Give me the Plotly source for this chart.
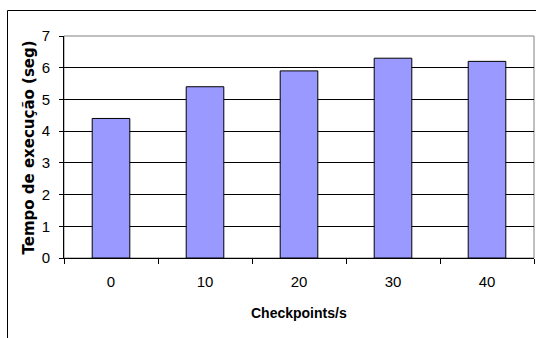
import plotly.graph_objects as go

# Execution time per checkpoint rate
checkpoints = ["0", "10", "20", "30", "40"]
tempo_seg = [4.4, 5.4, 5.9, 6.3, 6.2]
y_ticks = [0, 1, 2, 3, 4, 5, 6, 7]

W, H = 536, 338
L, R, T, B = 64, 2, 36, 80
PW, PH = W - L - R, H - T - B


def px_x(px):
    return (px - L) / PW


def px_y(py):
    return (H - B - py) / PH


tick_font = dict(family="Liberation Sans, Arial", size=15, color="black")

fig = go.Figure(
    go.Bar(
        x=checkpoints,
        y=tempo_seg,
        width=0.4,
        marker=dict(color="#9999FF", line=dict(color="black", width=1)),
        hoverinfo="skip",
    )
)

fig.update_layout(
    width=W,
    height=H,
    margin=dict(l=L, r=R, t=T, b=B, autoexpand=False),
    paper_bgcolor="white",
    plot_bgcolor="white",
    showlegend=False,
    bargap=0.6,
)

fig.update_xaxes(
    type="category",
    showgrid=False,
    showline=True,
    linecolor="black",
    linewidth=1,
    ticks="outside",
    ticklen=5,
    tickcolor="black",
    tickson="boundaries",
    tickfont=tick_font,
    ticklabelstandoff=10,
    automargin=False,
)

fig.update_yaxes(
    range=[0, 7],
    tickvals=y_ticks,
    ticktext=[str(v) for v in y_ticks],
    showgrid=True,
    gridcolor="black",
    gridwidth=1,
    zeroline=False,
    showline=True,
    linecolor="black",
    linewidth=1,
    ticks="outside",
    ticklen=4,
    tickcolor="black",
    tickfont=tick_font,
    ticklabelstandoff=6,
    automargin=False,
)

# Grey frame around the plot area (top and right edges show)
fig.add_shape(type="rect", xref="paper", yref="paper", x0=0, x1=1, y0=0, y1=1,
              line=dict(color="#808080", width=1), layer="below")

# Outer chart border
fig.add_shape(type="rect", xref="paper", yref="paper",
              x0=px_x(7.5), x1=px_x(560), y0=px_y(360), y1=px_y(10.5),
              line=dict(color="black", width=1), fillcolor="rgba(0,0,0,0)")

fig.add_annotation(
    text="<b>Checkpoints/s</b>", xref="paper", yref="paper",
    x=0.5, y=px_y(313), xanchor="center", yanchor="middle", showarrow=False,
    font=dict(family="Liberation Sans, Arial", size=14, color="black"),
)

fig.add_annotation(
    text="<b>Tempo de execução (seg)</b>", xref="paper", yref="paper",
    x=px_x(28.5), y=px_y(148), xanchor="center", yanchor="middle",
    textangle=-90, showarrow=False,
    font=dict(family="DejaVu Sans", size=15, color="black"),
)

fig.write_html("out.html")
